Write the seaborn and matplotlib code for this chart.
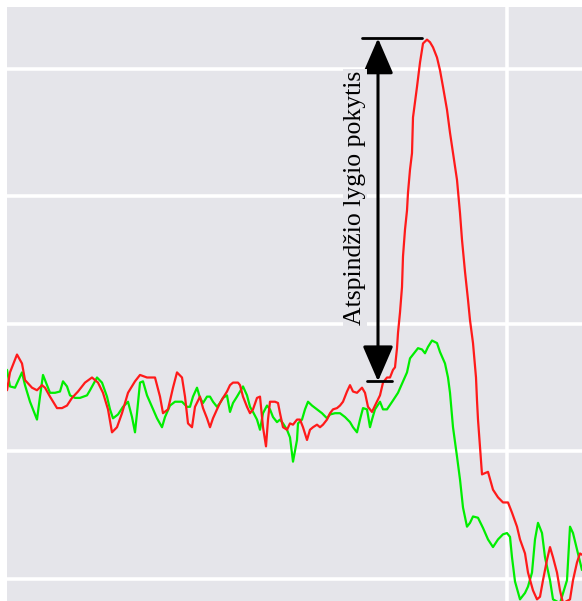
import numpy as np
import pandas as pd
import matplotlib
matplotlib.use("Agg")
import matplotlib.pyplot as plt
import seaborn as sns

# red trace (after change) - position vs level
red_x = [0, 3, 10, 15, 18, 25, 30, 35, 38, 43, 50, 55, 60, 65, 71, 78, 85, 91, 96, 101,
         105, 110, 115, 121, 128, 133, 140, 148, 153, 156, 161, 166, 170, 175, 178, 181, 185, 188, 193, 196,
         200, 203, 206, 210, 213, 216, 220, 223, 226, 231, 233, 236, 240, 243, 246, 250, 253, 256, 259, 261,
         263, 268, 271, 273, 276, 280, 283, 286, 290, 293, 296, 300, 303, 306, 310, 313, 316, 320, 323, 326,
         330, 333, 336, 340, 343, 346, 350, 355, 358, 361, 365, 368, 373, 376, 380, 383, 386, 388, 390, 391,
         393, 395, 396, 398, 400, 401, 403, 405, 406, 410, 413, 416, 420, 423, 426, 430, 433, 436, 440, 443,
         446, 450, 453, 455, 458, 461, 463, 466, 469, 470, 471, 473, 475, 481, 486, 491, 496, 501, 505, 510,
         513, 518, 521, 526, 530, 533, 536, 540, 543, 546, 550, 553, 556, 563, 566, 570, 573, 575]
red_y = [14.8, 16.2, 17.6, 16.9, 15.6, 15.0, 14.8, 15.2, 15.0, 14.3, 13.4, 13.4, 13.6, 14.2, 14.7, 15.4, 15.8, 15.4, 14.6, 13.3,
         11.5, 11.9, 13.0, 14.6, 15.5, 16.0, 15.8, 15.8, 14.3, 13.0, 13.3, 15.0, 16.2, 15.8, 14.3, 12.2, 11.9, 13.5, 14.3, 13.4,
         12.6, 11.9, 12.6, 13.3, 13.8, 14.2, 14.7, 15.2, 15.4, 15.4, 15.2, 14.3, 13.5, 13.0, 13.3, 14.2, 14.3, 11.9, 10.4, 12.5,
         13.9, 13.9, 13.8, 13.0, 11.9, 11.7, 12.2, 12.1, 12.5, 12.5, 11.9, 10.9, 11.7, 11.9, 12.1, 11.9, 12.1, 12.5, 13.0, 13.3,
         13.4, 13.6, 13.9, 14.7, 15.2, 14.7, 14.6, 15.0, 14.6, 13.5, 13.1, 13.6, 14.4, 15.4, 15.8, 15.8, 16.4, 16.6, 18.1, 19.3,
         20.9, 22.9, 25.3, 27.4, 28.9, 30.3, 32.1, 33.4, 36.2, 38.6, 40.5, 42.0, 42.3, 42.1, 41.7, 40.9, 39.9, 38.6, 36.8, 35.0,
         33.4, 31.3, 28.7, 26.6, 24.1, 21.9, 20.3, 18.5, 15.8, 14.0, 12.5, 10.4, 8.2, 8.4, 7.0, 6.4, 6.0, 6.0, 5.2, 4.1,
         3.1, 2.0, 0.5, -0.9, -1.6, -1.4, -0.1, 1.5, 2.5, 1.7, 0.5, -0.9, -1.9, -1.6, -0.1, 1.3, 2.0, 1.9]

# green trace (before change)
green_x = [0, 3, 8, 15, 18, 23, 30, 33, 36, 40, 43, 48, 53, 56, 60, 63, 68, 73, 80, 83,
           90, 95, 100, 103, 106, 111, 116, 121, 125, 128, 130, 133, 136, 140, 145, 150, 155, 158, 163, 168,
           175, 180, 183, 186, 190, 193, 196, 200, 203, 206, 210, 213, 216, 220, 223, 226, 230, 233, 236, 240,
           243, 246, 250, 253, 256, 260, 263, 266, 270, 273, 276, 280, 283, 286, 290, 291, 295, 298, 301, 305,
           310, 315, 320, 323, 328, 333, 338, 343, 346, 350, 353, 356, 360, 363, 365, 368, 373, 376, 380, 386,
           391, 396, 400, 403, 406, 411, 415, 418, 421, 425, 430, 433, 438, 441, 443, 446, 450, 453, 456, 460,
           463, 466, 471, 476, 481, 486, 491, 496, 500, 503, 505, 508, 513, 518, 521, 525, 528, 531, 535, 538,
           543, 546, 553, 560, 563, 566, 570, 575]
green_y = [16.4, 15.1, 15.0, 16.2, 15.2, 13.9, 12.5, 14.3, 16.0, 15.2, 14.6, 14.6, 14.7, 15.5, 15.1, 14.4, 14.2, 14.2, 14.4, 14.8,
           15.8, 15.4, 14.3, 13.3, 12.6, 12.9, 13.5, 13.9, 12.7, 11.5, 13.0, 15.4, 15.5, 14.4, 13.5, 12.6, 11.9, 12.7, 13.6, 13.9,
           13.9, 13.5, 13.5, 14.3, 15.0, 14.2, 13.8, 14.3, 14.3, 13.9, 13.5, 13.8, 14.2, 14.4, 13.1, 13.8, 14.3, 14.7, 15.1, 14.4,
           13.5, 13.1, 12.5, 11.7, 13.0, 13.6, 13.3, 12.7, 12.3, 12.5, 12.2, 11.7, 11.1, 9.2, 10.9, 12.2, 12.5, 13.3, 13.9, 13.6,
           13.3, 13.0, 12.6, 12.9, 13.0, 13.0, 12.7, 12.3, 11.9, 11.5, 12.5, 13.4, 13.3, 11.9, 12.5, 13.3, 13.9, 13.3, 13.3, 14.0,
           14.6, 15.5, 16.2, 17.3, 17.6, 18.1, 18.0, 17.7, 18.2, 18.7, 18.5, 17.8, 16.9, 15.8, 14.6, 11.9, 9.6, 7.8, 5.6, 4.1,
           4.4, 4.9, 4.8, 4.0, 3.1, 2.5, 3.1, 3.5, 3.6, 3.3, 1.7, -0.2, -1.6, -1.1, -0.6, 0.5, 3.1, 4.4, 3.6, 1.7,
           -0.1, -1.6, -1.9, -0.1, 4.1, 3.6, 2.3, 0.7]

level_ticks = [0, 10, 20, 30, 40]
pos_ticks = [500]
label = "Atspindžio lygio pokytis"

# arrow annotation (data units)
arrow_x = 371
arrow_top, arrow_bottom = 42.4, 15.5

bg = "#e5e5ea"
sns.set_style("darkgrid", {"axes.facecolor": bg, "grid.color": "white"})

fig = plt.figure(figsize=(5.82, 6.01), dpi=100)
ax = fig.add_axes([7 / 582, 0, 575 / 582, 1 - 7 / 601])

red = pd.DataFrame({"x": red_x, "y": red_y})
green = pd.DataFrame({"x": green_x, "y": green_y})
sns.lineplot(data=green, x="x", y="y", color="#00ee00", lw=1.6, ax=ax)
sns.lineplot(data=red, x="x", y="y", color="#ff1a1a", lw=1.6, ax=ax)

ax.set_xlim(0, 575)
ax.set_ylim(-1.73, 44.86)
ax.set_xticks(pos_ticks)
ax.set_yticks(level_ticks)
ax.grid(True, color="white", lw=2.6)
ax.tick_params(length=0, labelbottom=False, labelleft=False)
ax.set_xlabel("")
ax.set_ylabel("")
for s in ax.spines.values():
    s.set_visible(False)

# double headed arrow with end bars
ax.annotate("", xy=(arrow_x, arrow_top), xytext=(arrow_x, arrow_bottom),
            arrowprops=dict(arrowstyle="<|-|>,head_length=2.2,head_width=0.95",
                            color="black", lw=2.2, shrinkA=0, shrinkB=0))
ax.plot([355, 415], [arrow_top, arrow_top], color="black", lw=2)
ax.plot([360, 385], [arrow_bottom, arrow_bottom], color="black", lw=2)

ax.text(348, 29.9, label, rotation=90, ha="center", va="center", color="black",
        family=["Liberation Serif", "DejaVu Serif"], fontsize=18.5,
        bbox=dict(facecolor=bg, edgecolor="none", pad=1))

fig.savefig("out.png", dpi=100)
